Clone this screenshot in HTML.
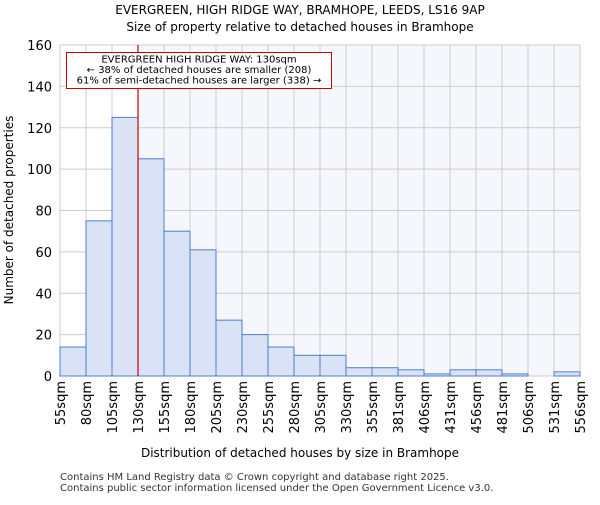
<!DOCTYPE html>
<html><head><meta charset="utf-8"><style>body{margin:0;background:#fff}svg{font-family:"DejaVu Sans","Liberation Sans",sans-serif}</style></head>
<body>
<svg id="c" width="600" height="500" xmlns="http://www.w3.org/2000/svg">
<text x="300" y="14" text-anchor="middle" font-size="12">EVERGREEN, HIGH RIDGE WAY, BRAMHOPE, LEEDS, LS16 9AP</text>
<text x="300" y="31" text-anchor="middle" font-size="12">Size of property relative to detached houses in Bramhope</text>
<g id="plot"></g>
<text x="300" y="457" text-anchor="middle" font-size="12">Distribution of detached houses by size in Bramhope</text>
<text transform="translate(13,210) rotate(-90)" text-anchor="middle" font-size="12">Number of detached properties</text>
<text x="60" y="480" font-size="10" fill="#333">Contains HM Land Registry data © Crown copyright and database right 2025.</text>
<text x="60" y="491" font-size="10" fill="#333">Contains public sector information licensed under the Open Government Licence v3.0.</text>
</svg>
<script>
const labels=["55sqm","80sqm","105sqm","130sqm","155sqm","180sqm","205sqm","230sqm","255sqm","280sqm","305sqm","330sqm","355sqm","381sqm","406sqm","431sqm","456sqm","481sqm","506sqm","531sqm","556sqm"];
const counts=[14,75,125,105,70,61,27,20,14,10,10,4,4,3,1,3,3,1,0,2];
const yTicks=[0,20,40,60,80,100,120,140,160];
const markerIndex=3;
const NS="http://www.w3.org/2000/svg";
const L=60,R=580,T=45,B=376,yMax=160;
const bw=(R-L)/counts.length;
const x=i=>L+i*bw;
const y=v=>B-(v/yMax)*(B-T);
const g=document.getElementById('plot');
function mk(t,a){const e=document.createElementNS(NS,t);for(const k in a)e.setAttribute(k,a[k]);g.appendChild(e);return e;}
let e;
e=mk('rect',{x:x(markerIndex),y:T,width:R-x(markerIndex),height:B-T,fill:'#f5f7fd'});


yTicks.forEach(v=>{
 e=mk('line',{x1:L,x2:R,y1:y(v),y2:y(v),stroke:'#ccc','stroke-width':1});
 
 
 e=mk('text',{x:L-8,y:y(v)+5,'text-anchor':'end','font-size':13});
 e.textContent=v;
 
 
});
labels.forEach((s,i)=>{
 e=mk('line',{x1:x(i),x2:x(i),y1:T,y2:B,stroke:'#ccc','stroke-width':1});
 
 
 e=mk('text',{transform:`translate(${x(i)+5},381) rotate(-90)`,'text-anchor':'end','font-size':13});
 e.textContent=s;
 
 
});
counts.forEach((v,i)=>{
 if(v<=0)return;
 e=mk('rect',{x:x(i),y:y(v),width:bw,height:B-y(v),fill:'#dae3f5',stroke:'#4a7fd0','stroke-width':1});
 
 
});
e=mk('line',{x1:x(markerIndex),x2:x(markerIndex),y1:T,y2:B,stroke:'#cc0000','stroke-width':1.2});


e=mk('rect',{x:66.5,y:52.5,width:265,height:36,fill:'#fff',stroke:'#cc0000','stroke-width':1});


["EVERGREEN HIGH RIDGE WAY: 130sqm","← 38% of detached houses are smaller (208)","61% of semi-detached houses are larger (338) →"].forEach((s,i)=>{
 e=mk('text',{x:199,y:62.5+i*10.5,'text-anchor':'middle','font-size':10});
 e.textContent=s;
 
 
});
</script>
</body></html>
